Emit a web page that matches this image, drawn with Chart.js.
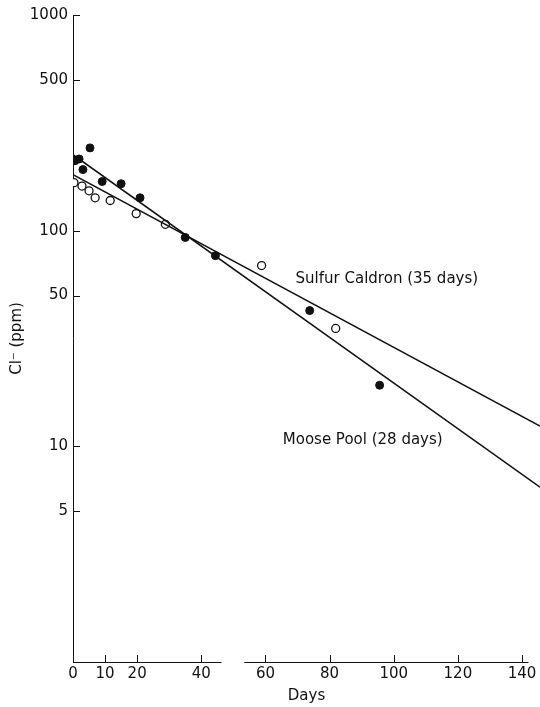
<!DOCTYPE html>
<html>
<head>
<meta charset="utf-8">
<script src="https://cdn.jsdelivr.net/npm/chart.js@4.4.0/dist/chart.umd.min.js"></script>
<style>
  html, body { margin: 0; padding: 0; background: #fff; overflow: hidden; }
  canvas { display: block; }
</style>
</head>
<body>
<canvas id="chart" width="540" height="707"></canvas>
<script>
// Moose Pool samples (filled dots): days and Cl- in ppm
const mooseDays = [0.6, 1.9, 3.1, 5.3, 9.1, 15, 20.9, 35, 44.4, 73.8, 95.6];
const mooseCl = [211, 215, 192, 242, 169, 165, 142, 93, 76.6, 42.6, 19.2];

// Sulfur Caldron samples (open dots)
const sulfurDays = [0.3, 2.8, 5, 6.9, 11.6, 19.7, 28.8, 58.8, 81.9];
const sulfurCl = [167, 161, 153, 142, 138, 120, 107, 68.9, 35.2];

// fitted decay lines, end points
const mooseFitDays = [0, 145.6];
const mooseFitCl = [225, 6.46];
const sulfurFitDays = [0, 145.6];
const sulfurFitCl = [182, 12.4];

const xTicks = [0, 10, 20, 40, 60, 80, 100, 120, 140];
const yTicks = [1, 5, 10, 50, 100, 500, 1000];

const ink = '#111';
const fontFamily = '"DejaVu Sans", sans-serif';

function toPoints(xs, ys) {
    return xs.map((x, i) => ({ x: x, y: ys[i] }));
}

// axis lines and inward tick marks, like the printed figure
const axisFrame = {
    id: 'axisFrame',
    beforeDatasetsDraw(chart) {
        const ctx = chart.ctx;
        const area = chart.chartArea;
        const xs = chart.scales.x;
        const ys = chart.scales.y;
        ctx.save();
        ctx.strokeStyle = ink;
        ctx.lineWidth = 1;
        ctx.beginPath();
        // y axis
        ctx.moveTo(area.left + 0.5, area.top);
        ctx.lineTo(area.left + 0.5, area.bottom);
        // x axis, with the break found in the original
        ctx.moveTo(area.left, area.bottom + 0.5);
        ctx.lineTo(xs.getPixelForValue(46.3), area.bottom + 0.5);
        ctx.moveTo(xs.getPixelForValue(53.4), area.bottom + 0.5);
        ctx.lineTo(xs.getPixelForValue(142), area.bottom + 0.5);
        yTicks.forEach(v => {
            if (v === 1) return;
            const py = Math.round(ys.getPixelForValue(v)) + 0.5;
            ctx.moveTo(area.left, py);
            ctx.lineTo(area.left + 7, py);
        });
        xTicks.forEach(v => {
            if (v === 0) return;
            const px = Math.round(xs.getPixelForValue(v)) + 0.5;
            ctx.moveTo(px, area.bottom);
            ctx.lineTo(px, area.bottom - 7);
        });
        ctx.stroke();
        ctx.restore();
    }
};

// text labels next to each fitted line
const lineLabels = {
    id: 'lineLabels',
    afterDatasetsDraw(chart) {
        const ctx = chart.ctx;
        const xs = chart.scales.x;
        const ys = chart.scales.y;
        ctx.save();
        ctx.fillStyle = ink;
        ctx.font = '15px ' + fontFamily;
        ctx.textBaseline = 'alphabetic';
        ctx.textAlign = 'left';
        ctx.fillText('Sulfur Caldron (35 days)', xs.getPixelForValue(69.4), ys.getPixelForValue(56.9));
        ctx.fillText('Moose Pool (28 days)', xs.getPixelForValue(65.4), ys.getPixelForValue(10.2));
        ctx.restore();
    }
};

document.addEventListener('DOMContentLoaded', function() {
    const ctx = document.getElementById('chart').getContext('2d');
    new Chart(ctx, {
        type: 'scatter',
        data: {
            datasets: [
                {
                    label: 'Moose Pool fit',
                    data: toPoints(mooseFitDays, mooseFitCl),
                    showLine: true,
                    borderColor: ink,
                    borderWidth: 1.5,
                    pointRadius: 0
                },
                {
                    label: 'Sulfur Caldron fit',
                    data: toPoints(sulfurFitDays, sulfurFitCl),
                    showLine: true,
                    borderColor: ink,
                    borderWidth: 1.5,
                    pointRadius: 0
                },
                {
                    label: 'Moose Pool',
                    data: toPoints(mooseDays, mooseCl),
                    pointRadius: 4,
                    pointBackgroundColor: ink,
                    pointBorderColor: ink,
                    pointBorderWidth: 1
                },
                {
                    label: 'Sulfur Caldron',
                    data: toPoints(sulfurDays, sulfurCl),
                    pointRadius: 4,
                    pointBackgroundColor: '#fff',
                    pointBorderColor: ink,
                    pointBorderWidth: 1.3
                }
            ]
        },
        options: {
            responsive: false,
            animation: false,
            layout: { autoPadding: false, padding: { top: 15, right: 0, bottom: 0, left: 0 } },
            plugins: {
                legend: { display: false },
                tooltip: { enabled: false }
            },
            scales: {
                x: {
                    type: 'linear',
                    min: 0,
                    max: 145.6,
                    afterBuildTicks: s => { s.ticks = xTicks.map(v => ({ value: v })); },
                    afterFit: s => {
                        s.height = 45;
                        s.paddingLeft = 0;
                        s.paddingRight = 0;
                    },
                    grid: { display: false, drawTicks: false },
                    border: { display: false },
                    ticks: {
                        color: ink,
                        font: { family: fontFamily, size: 15 },
                        padding: 3,
                        maxRotation: 0,
                        autoSkip: false,
                        callback: v => String(v)
                    },
                    title: {
                        display: true,
                        text: 'Days',
                        color: ink,
                        font: { family: fontFamily, size: 15 },
                        padding: { top: 0, bottom: 2 }
                    }
                },
                y: {
                    type: 'logarithmic',
                    min: 1,
                    max: 1000,
                    afterBuildTicks: s => { s.ticks = yTicks.map(v => ({ value: v })); },
                    afterFit: s => { s.width = 73; },
                    grid: { display: false, drawTicks: false },
                    border: { display: false },
                    ticks: {
                        color: ink,
                        font: { family: fontFamily, size: 15 },
                        padding: 5,
                        autoSkip: false,
                        callback: v => (v === 1 ? '' : String(v))
                    },
                    title: {
                        display: true,
                        text: 'Cl\u207B (ppm)',
                        color: ink,
                        font: { family: fontFamily, size: 15 },
                        padding: { top: 8, bottom: 0 }
                    }
                }
            }
        },
        plugins: [axisFrame, lineLabels]
    });
});
</script>
</body>
</html>
